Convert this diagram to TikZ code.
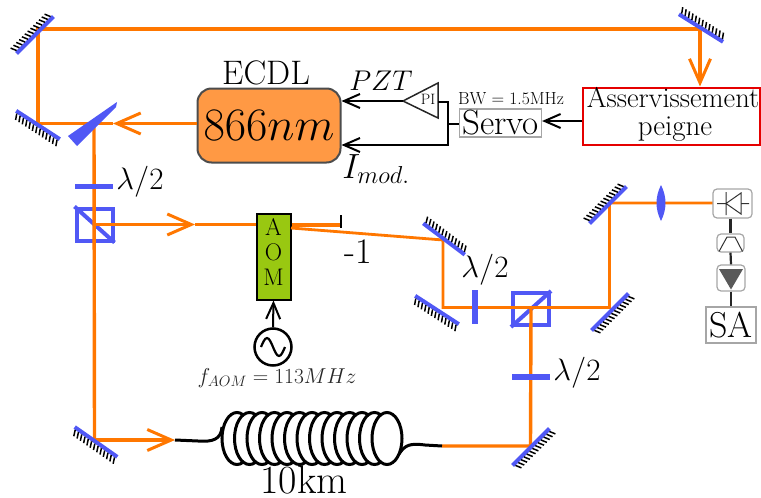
\RequirePackage{fix-cm}
\documentclass[tikz,border=0pt]{standalone}
\usetikzlibrary{arrows.meta,shapes.geometric}
\definecolor{beamc}{HTML}{FF7700}
\definecolor{optic}{HTML}{5058F5}
\definecolor{ecdlc}{HTML}{FF9944}
\definecolor{aomc}{HTML}{99C811}
\newcommand{\fs}[1]{\fontsize{#1}{#1}\selectfont}
\newcommand{\mirr}[3]{\begin{scope}[shift={(#1,#2)},rotate=#3]
 \draw[line width=4pt,optic] (-26,0) -- (26,0);
 \foreach \i in {-24,-20,...,24} \draw[line width=1.5pt,black] (\i,-2) -- (\i-2.5,-8);
\end{scope}}
\tikzset{
 beam/.style={line width=3.4pt,beamc},
 bhead/.style={beam,-{Straight Barb[length=24pt,width=21pt,line width=3pt]}},
 wire/.style={line width=2pt,black},
 wtip/.style={wire,-{Straight Barb[length=16pt,width=14pt,line width=2pt]}},
 plate/.style={line width=5.5pt,optic},
 cube/.style={draw=optic,line width=4pt,minimum width=36pt,minimum height=32pt,inner sep=0pt},
 graybox/.style={draw=gray!70,line width=1.2pt,fill=white,inner sep=0pt},
 rbox/.style={graybox,rounded corners=4pt},
 lbl/.style={inner sep=0pt,outer sep=0pt},
 fiber/.style={line width=3pt,black},
 coil/.style={draw=black,line width=3pt,fill=white}
}
\begin{document}
\begin{tikzpicture}[x=1pt,y=-1pt]
\useasboundingbox (0,0) rectangle (761,498);
% beam coordinates
\coordinate (m1) at (38,29);
\coordinate (m2) at (700,29);
\coordinate (m3) at (38,123.5);
\coordinate (bs) at (94,123.5);
\coordinate (m4) at (94.5,440);
\coordinate (fin) at (175,440);
\coordinate (fout) at (442,446);
\coordinate (m5) at (530.5,446);
\coordinate (m6) at (443,240);
\coordinate (m7) at (443,307.5);
\coordinate (m8) at (609.5,307.5);
\coordinate (m9) at (609.5,203);
\coordinate (stop) at (341,225);
% nodes
\node[cube] (c1) at (94.5,224.5) {};
\node[cube] (c2) at (531,309) {};
\draw[line width=4pt,optic] (c1.north west) -- (c1.south east);
\draw[line width=4pt,optic] (c2.south west) -- (c2.north east);
\node[draw=black!70,fill=ecdlc,line width=2pt,rounded corners=14pt,minimum width=143pt,minimum height=74pt,inner sep=0pt,font=\fs{46.5}] (ecdl) at (269,125.5) {$866nm$};
\node[lbl,font=\fs{34}] (ecdlt) at (266,73) {ECDL};
\node[draw=black,fill=aomc,line width=2pt,minimum width=34pt,minimum height=86pt,inner sep=0pt] (aom) at (273.5,256.5) {};
\node[lbl,font=\fs{24}] (aomA) at (273.5,227) {A};
\node[lbl,font=\fs{24}] (aomO) at (273.5,252) {O};
\node[lbl,font=\fs{24}] (aomM) at (273.5,277) {M};
\node[draw=black,line width=2.5pt,circle,minimum size=37pt,inner sep=0pt] (osc) at (273,347) {};
\node[lbl,font=\fs{21.5},text=black!85] (fa) at (277,378) {$f_{AOM}=113MHz$};
\node[draw=red!90!black,line width=2pt,minimum width=177pt,minimum height=57pt,inner sep=0pt] (as) at (671,116) {};
\node[lbl,font=\fs{28.5}] (ast) at (673,97.5) {Asservissement};
\node[lbl,font=\fs{29}] (pei) at (675,129) {peigne};
\node[graybox,minimum width=82pt,minimum height=28pt,font=\fs{35}] (servo) at (500.5,123) {Servo};
\node[lbl,font=\fs{17.5}] (bw) at (511,98.5) {BW = 1.5MHz};
\node[lbl,font=\fs{28.5}] (pzt) at (381,81) {$PZT$};
\node[lbl,font=\fs{35}] (imod) at (376,169) {$I_{mod.}$};
\node[lbl,font=\fs{31}] (l1) at (140,182) {$\lambda/2$};
\node[lbl,font=\fs{31}] (l2) at (485,270) {$\lambda/2$};
\node[lbl,font=\fs{31}] (l3) at (577,373) {$\lambda/2$};
\node[lbl,font=\fs{36}] (m1l) at (358,252) {-1};
\node[lbl,font=\fs{40}] (km) at (304,480) {10km};
% beams
\draw[beam] (m3) -- (m1) -- (m2);
\draw[bhead] (m2) -- (as.north -| m2);
\draw[bhead] (ecdl.west |- bs) -- (113,123.5);
\draw[beam] (113,123.5) -- (m3);
\draw[beam] (bs) -- (m4);
\draw[bhead] (m4) -- (fin);
\draw[bhead] (c1.center) -- (195,224.5);
\draw[beam] (195,224.5) -- (aom.west |- c1);
\draw[beam] (aom.east |- stop) -- (stop);
\draw[beam,line width=2.8pt] (291,228) -- (m6) -- (m7) -- (m8) -- (m9) -- (713,203);
\draw[beam] (c2.center) -- (m5) -- (fout);
% fibre
\draw[fiber] (fin) -- (198,441) .. controls (212,442) and (221,440) .. (222,427);
\draw[fiber] (fout) -- (425,445) .. controls (410,443) and (405,445) .. (399,454);
\foreach \x in {237,249.5,...,387} \node[coil,ellipse,minimum width=30pt,minimum height=52pt,inner sep=0pt] at (\x,438.5) {};
% beam splitter wedge
\fill[optic] (117,102) -- (116,107) -- (77,146) -- (68,136) -- cycle;
% mirrors
\mirr{35}{35}{45}
\mirr{701}{28}{-32}
\mirr{38}{125}{147}
\mirr{96}{442}{145}
\mirr{444}{239}{-37}
\mirr{437}{310}{147}
\mirr{610}{312}{225}
\mirr{608}{205}{45}
\mirr{531}{447}{225}
% plates and lens
\draw[plate] (75,186.5) -- (113,186.5);
\draw[plate] (475,290) -- (475,324);
\draw[plate] (512,377) -- (550,377);
\fill[optic] (661,185) .. controls (667,197) and (667,209) .. (661,221) .. controls (655,209) and (655,197) .. (661,185);
% beam stop
\draw[wire] (341,215) -- (341,228);
% AOM driver
\draw[wtip] (osc.north) -- (aom.south);
\draw[line width=2.2pt] (261,347) sin (267,338) cos (273,347) sin (279,356) cos (285,347);
% electronics
\node[inner sep=0pt,font=\fs{15}] (pi) at (428,99) {PI};
\coordinate (pitip) at (403,101);
\draw[draw=black!85,line width=1.5pt] (pitip) -- (438,83) -- (438,118) -- cycle;
\draw[wtip] (pitip) -- (ecdl.east |- pitip);
\coordinate (j1) at (448,124);
\draw[wire] (438,102) -| (j1) -- (j1 -| servo.west);
\draw[wtip] (j1) -- (448,145) -- (ecdl.east |- 0,145);
\draw[wtip] (as.west |- 0,121) -- (servo.east |- 0,121);
% detection chain
\node[rbox,minimum width=39pt,minimum height=29pt] (pd) at (732.5,203.5) {};
\node[rbox,minimum width=27pt,minimum height=18pt] (flt) at (730.5,243) {};
\node[rbox,minimum width=28pt,minimum height=26pt] (amp) at (731,278) {};
\node[graybox,minimum width=50pt,minimum height=36pt,font=\fs{36}] (sa) at (731,325) {SA};
\draw[line width=2.2pt,black!85] (pd.south -| flt) -- (flt.north);
\draw[line width=2.2pt,black!85] (flt.south) -- (amp.north);
\draw[line width=2.2pt,black!85] (amp.south) -- (sa.north);
\draw[line width=1pt,black!80] (717,203.5) -- (726,203.5) (726,192) -- (726,215) (726,203.5) -- (741,193) -- (741,214) -- cycle (741,203.5) -- (749,203.5);
\draw[line width=1pt,black!80] (719,251.5) -- (727,237) -- (735,237) -- (742.5,251.5);
\fill[black!65] (719,269) -- (743,269) -- (731,289.5) -- cycle;
\end{tikzpicture}
\end{document}
